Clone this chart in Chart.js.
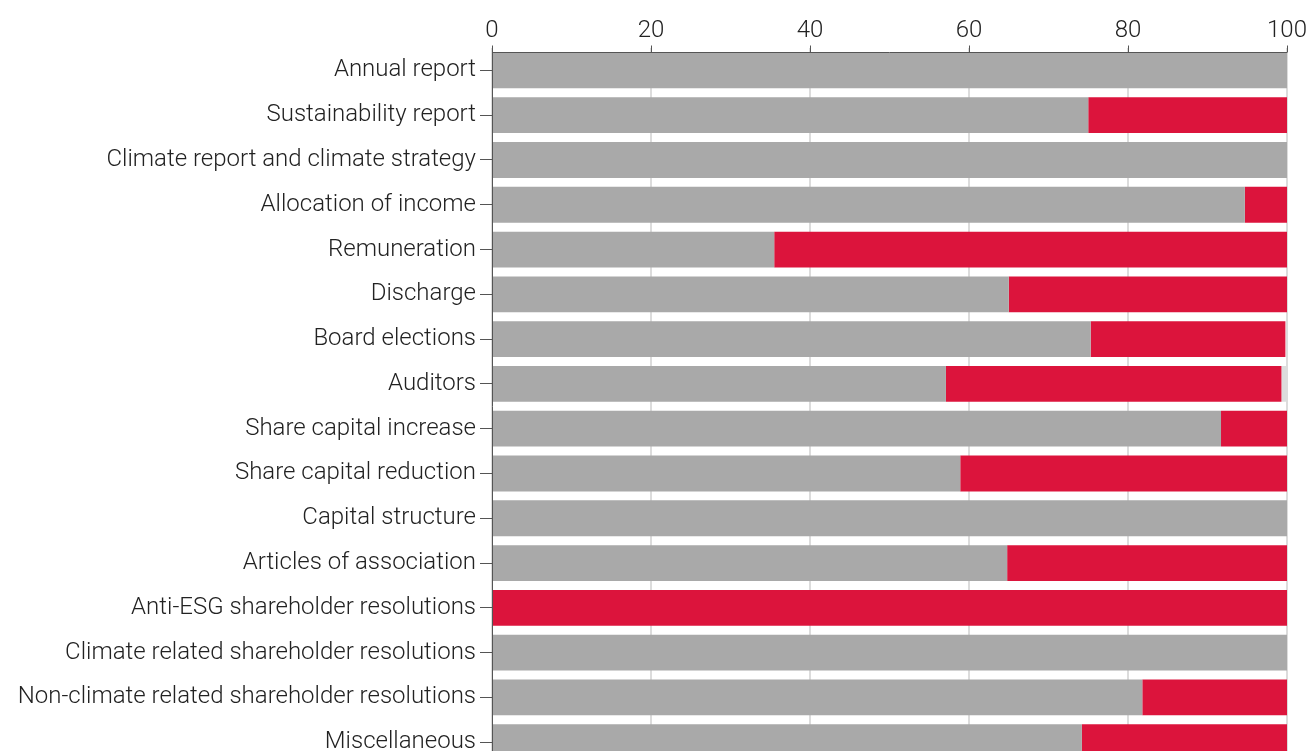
<!DOCTYPE html>
<html>
<head>
<meta charset="utf-8">
<script src="https://cdn.jsdelivr.net/npm/chart.js@4"></script>
<style>
  html, body { margin: 0; padding: 0; background: #fff; overflow: hidden; }
  canvas { display: block; }
</style>
</head>
<body>
<canvas id="votes" width="1309" height="783"></canvas>
<script>
// Datos
const categorias = [
  'Annual report',
  'Sustainability report',
  'Climate report and climate strategy',
  'Allocation of income',
  'Remuneration',
  'Discharge',
  'Board elections',
  'Auditors',
  'Share capital increase',
  'Share capital reduction',
  'Capital structure',
  'Articles of association',
  'Anti-ESG shareholder resolutions',
  'Climate related shareholder resolutions',
  'Non-climate related shareholder resolutions',
  'Miscellaneous'
];
const valoresFor = [100, 75, 100, 94.7, 35.5, 65, 75.3, 57.1, 91.7, 58.9, 100, 64.8, 0, 100, 81.8, 74.2];
const valoresAgainst = [0, 25, 0, 5.3, 64.5, 35, 24.5, 42.2, 8.3, 41.1, 0, 35.2, 100, 0, 18.2, 25.8];
const valoresOtro = [0, 0, 0, 0, 0, 0, 0, 0.7, 0, 0, 0, 0, 0, 0, 0, 0];
const ticksX = [0, 20, 40, 60, 80, 100];

const fuente = { family: 'Roboto', size: 24, weight: 300 };

//Linea del eje superior, un poco por debajo del borde del area
const lineaEje = {
  id: 'lineaEje',
  afterDatasetsDraw(chart) {
    const ctx = chart.ctx;
    const area = chart.chartArea;
    const xs = chart.scales.x;
    const y0 = area.top + 4.5;
    ctx.save();
    ctx.strokeStyle = '#555';
    ctx.lineWidth = 1;
    ctx.beginPath();
    ctx.moveTo(area.left, y0);
    ctx.lineTo(area.right, y0);
    ticksX.forEach(v => {
      const px = Math.round(xs.getPixelForValue(v)) + 0.5;
      ctx.moveTo(px, y0 - 7);
      ctx.lineTo(px, y0);
    });
    ctx.stroke();
    ctx.restore();
  }
};

const canvasVotes = document.getElementById('votes');

let votesChart = new Chart(canvasVotes, {
  type: 'bar',
  data: {
    labels: categorias,
    datasets: [
      { label: 'For', data: valoresFor, backgroundColor: '#a9a9a9', barPercentage: 0.8, categoryPercentage: 1 },
      { label: 'Against', data: valoresAgainst, backgroundColor: '#dc143c', barPercentage: 0.8, categoryPercentage: 1 },
      { label: 'Other', data: valoresOtro, backgroundColor: '#dcdcdc', barPercentage: 0.8, categoryPercentage: 1 }
    ]
  },
  plugins: [lineaEje],
  options: {
    indexAxis: 'y',
    responsive: false,
    animation: false,
    layout: { padding: { top: 0, right: 22, bottom: 0, left: 0 } },
    plugins: {
      legend: { display: false },
      tooltip: { enabled: false }
    },
    scales: {
      x: {
        position: 'top',
        stacked: true,
        min: 0,
        max: 100,
        afterBuildTicks: (scale) => { scale.ticks = ticksX.map(v => ({ value: v })); },
        afterFit: (scale) => { scale.height = 48; },
        ticks: { color: '#222', font: fuente, padding: 1 },
        grid: { color: '#dcdcdc', lineWidth: 2, tickColor: 'rgba(0,0,0,0)', tickLength: 2 },
        border: { display: false }
      },
      y: {
        stacked: true,
        afterFit: (scale) => { scale.width = 492; },
        ticks: { color: '#222', font: fuente, padding: 4, autoSkip: false },
        grid: { offset: false, drawOnChartArea: false, drawTicks: true, tickLength: 12, tickColor: '#555', tickWidth: 1 },
        border: { display: true, color: '#555', width: 1 }
      }
    }
  }
});
</script>
</body>
</html>
